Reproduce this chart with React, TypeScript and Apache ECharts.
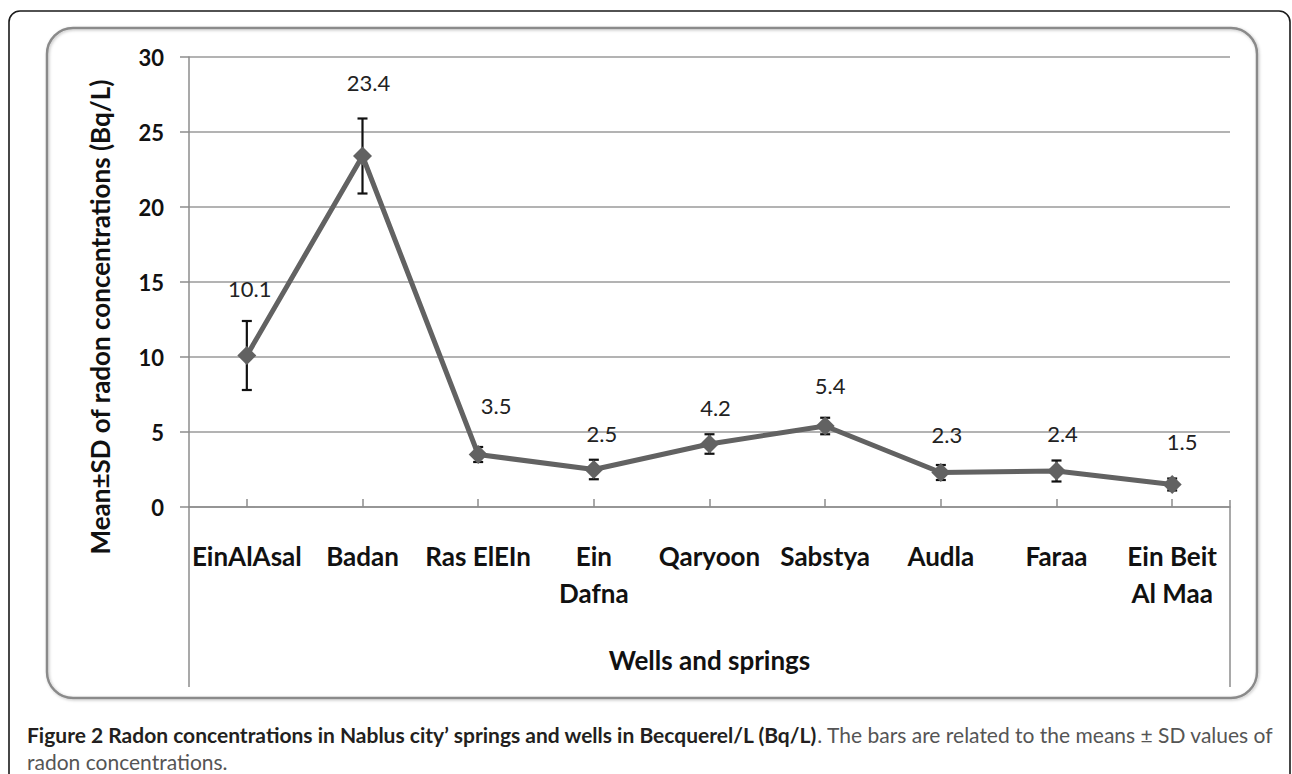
import React, { useEffect, useRef } from "react";
import * as echarts from "echarts";

const categories = [
  "EinAlAsal",
  "Badan",
  "Ras ElEIn",
  "Ein\nDafna",
  "Qaryoon",
  "Sabstya",
  "Audla",
  "Faraa",
  "Ein Beit\nAl Maa",
];
const means = [10.1, 23.4, 3.5, 2.5, 4.2, 5.4, 2.3, 2.4, 1.5];
const sds = [2.3, 2.5, 0.5, 0.65, 0.65, 0.55, 0.5, 0.7, 0.4];
const yMin = 0;
const yMax = 30;
const yStep = 5;

// label nudges (style only)
const labelNudge = [
  [3, -45],
  [6, -51],
  [18, -27],
  [8, -14],
  [6, -14],
  [5, -18],
  [6, -16],
  [6, -15],
  [10, -21],
];

const W = 1292;
const H = 774;
const G_LEFT = 189;
const G_RIGHT = 1230;
const G_TOP = 57;
const G_BOTTOM = 507;
const FONT = "Lato, 'Open Sans', sans-serif";

export default function App() {
  const ref = useRef<HTMLDivElement>(null);
  useEffect(() => {
    if (!ref.current) return;
    const chart = echarts.init(ref.current, null, { renderer: "svg" });
    const errData = means.map((m, i) => [i, m - sds[i], m + sds[i]]);
    chart.setOption({
      animation: false,
      backgroundColor: "#ffffff",
      textStyle: { fontFamily: FONT },
      grid: {
        left: G_LEFT,
        right: W - G_RIGHT,
        top: G_TOP,
        bottom: H - G_BOTTOM,
        containLabel: false,
      },
      xAxis: {
        type: "category",
        data: categories,
        boundaryGap: true,
        name: "Wells and springs",
        nameLocation: "middle",
        nameGap: 140,
        nameTextStyle: {
          fontFamily: FONT,
          fontSize: 26,
          fontWeight: "bold",
          color: "#111",
        },
        axisLine: { lineStyle: { color: "#8c8c8c", width: 1.5 } },
        axisTick: {
          show: true,
          alignWithLabel: true,
          inside: true,
          length: 8,
          lineStyle: { color: "#8c8c8c", width: 1.5 },
        },
        axisLabel: {
          interval: 0,
          margin: 30,
          fontFamily: FONT,
          fontSize: 26,
          fontWeight: "bold",
          lineHeight: 37,
          color: "#111",
        },
        splitLine: { show: false },
      },
      yAxis: {
        type: "value",
        min: yMin,
        max: yMax,
        interval: yStep,
        axisLine: { show: true, lineStyle: { color: "#8c8c8c", width: 1.5 } },
        axisTick: {
          show: true,
          length: 9,
          lineStyle: { color: "#8c8c8c", width: 1.5 },
        },
        axisLabel: {
          margin: 25,
          fontFamily: FONT,
          fontSize: 22,
          fontWeight: "bold",
          color: "#111",
        },
        splitLine: { show: true, lineStyle: { color: "#9a9a9a", width: 1.5 } },
      },
      series: [
        {
          type: "custom",
          z: 2,
          data: errData,
          encode: { x: 0, y: [1, 2] },
          renderItem: (params: any, api: any) => {
            const i = api.value(0);
            const lo = api.coord([i, api.value(1)]);
            const hi = api.coord([i, api.value(2)]);
            const cap = 5;
            const style = { stroke: "#111111", lineWidth: 2.2 };
            return {
              type: "group",
              children: [
                { type: "line", shape: { x1: lo[0], y1: lo[1], x2: hi[0], y2: hi[1] }, style },
                { type: "line", shape: { x1: hi[0] - cap, y1: hi[1], x2: hi[0] + cap, y2: hi[1] }, style },
                { type: "line", shape: { x1: lo[0] - cap, y1: lo[1], x2: lo[0] + cap, y2: lo[1] }, style },
              ],
            };
          },
        },
        {
          type: "line",
          z: 3,
          data: means.map((v, i) => ({
            value: v,
            label: { offset: labelNudge[i] },
          })),
          symbol: "diamond",
          symbolSize: 19,
          lineStyle: { color: "#626262", width: 5 },
          itemStyle: { color: "#626262" },
          label: {
            show: true,
            position: "top",
            distance: 0,
            fontFamily: FONT,
            fontSize: 22,
            lineHeight: 26,
            color: "#222",
            formatter: (p: any) => Number(p.value).toFixed(1),
          },
        },
      ],
      graphic: [
        {
          type: "rect",
          z: -10,
          shape: { x: 9, y: 11, width: 1281, height: 800, r: [11, 11, 0, 0] },
          style: { fill: "none", stroke: "#1a1a1a", lineWidth: 1.6 },
        },
        {
          type: "rect",
          z: -9,
          shape: { x: 47, y: 28, width: 1210, height: 670, r: 26 },
          style: {
            fill: "none",
            stroke: "#8a8a8a",
            lineWidth: 2.5,
            shadowBlur: 3,
            shadowColor: "rgba(0,0,0,0.25)",
            shadowOffsetX: 1,
            shadowOffsetY: 1,
          },
        },
        {
          type: "line",
          shape: { x1: G_LEFT, y1: G_BOTTOM, x2: G_LEFT, y2: 687 },
          style: { stroke: "#8c8c8c", lineWidth: 1.5 },
        },
        {
          type: "line",
          shape: { x1: G_RIGHT, y1: G_BOTTOM - 7, x2: G_RIGHT, y2: 687 },
          style: { stroke: "#8c8c8c", lineWidth: 1.5 },
        },
        {
          type: "text",
          x: 100,
          y: 317,
          rotation: Math.PI / 2,
          style: {
            text: "Mean\u00B1SD of radon concentrations (Bq/L)",
            fontFamily: FONT,
            fontSize: 26,
            fontWeight: "bold",
            fill: "#111",
            align: "center",
            verticalAlign: "middle",
          },
        },
        {
          type: "text",
          x: 27,
          y: 734,
          style: {
            text:
              "{b|Figure 2 Radon concentrations in Nablus city\u2019 springs and wells in Becquerel/L (Bq/L)}{r|. The bars are related to the means \u00B1 SD values of}",
            verticalAlign: "middle",
            rich: {
              b: { fontFamily: FONT, fontSize: 21, fontWeight: "bold", fill: "#231f20" },
              r: { fontFamily: FONT, fontSize: 21, fill: "#555555" },
            },
          },
        },
        {
          type: "text",
          x: 27,
          y: 761,
          style: {
            text: "radon concentrations.",
            fontFamily: FONT,
            fontSize: 21,
            fill: "#555555",
            verticalAlign: "middle",
          },
        },
      ],
    });
    return () => chart.dispose();
  }, []);
  return (
    <div
      ref={ref}
      style={{ position: "fixed", left: 0, top: 0, width: W, height: H, background: "#fff" }}
    />
  );
}
